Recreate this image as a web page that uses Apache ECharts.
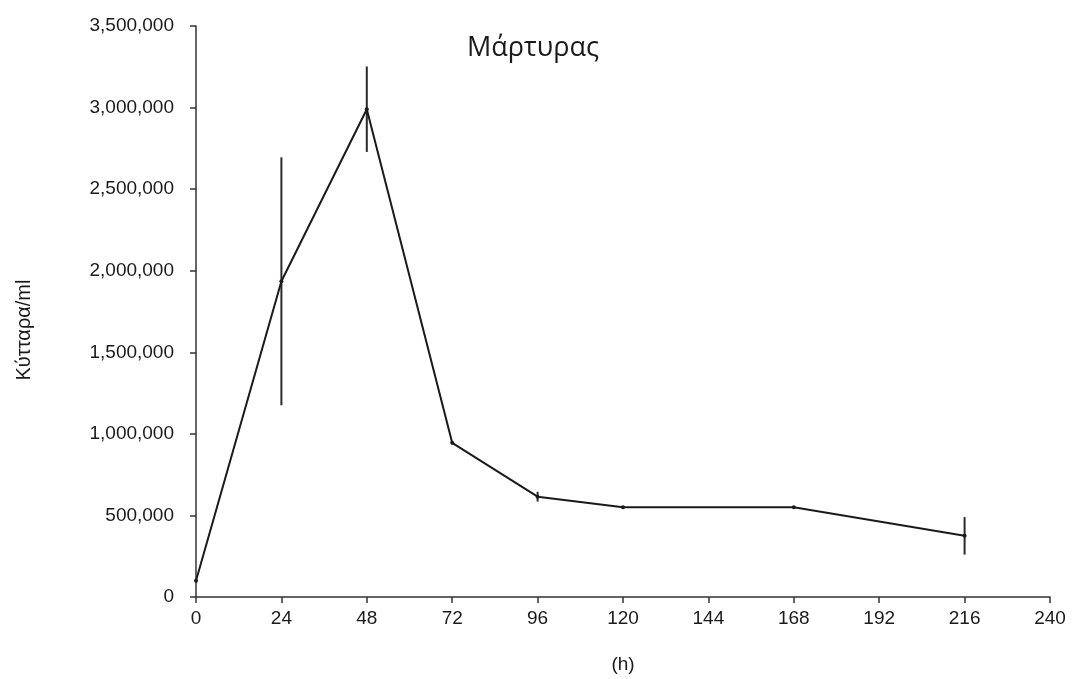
<!DOCTYPE html>
<html>
<head>
<meta charset="utf-8">
<script src="https://cdn.jsdelivr.net/npm/echarts@6/dist/echarts.min.js"></script>
<style>
    html, body { margin: 0; padding: 0; background: #fff; }
    #chart { width: 1073px; height: 679px; }
</style>
</head>
<body>
<div id="chart"></div>
<script>
// time points (h) and cell counts
const hours = [0, 24, 48, 72, 96, 120, 168, 216];
const cells = [100000, 1935000, 2990000, 945000, 615000, 550000, 550000, 375000];
const errors = [10000, 760000, 262000, 10000, 30000, 5000, 5000, 115000];
const xTicks = [0, 24, 48, 72, 96, 120, 144, 168, 192, 216, 240];

const ink = '#1a1a1a';
const labelFont = '"Liberation Sans", Arial, sans-serif';

const lineData = hours.map((h, i) => [h, cells[i]]);
const errData = hours.map((h, i) => [h, cells[i] - errors[i], cells[i] + errors[i]]);

const chart = echarts.init(document.getElementById('chart'));
chart.setOption({
    backgroundColor: '#fff',
    animation: false,
    title: {
        text: 'Μάρτυρας',
        left: 462,
        top: 30,
        textStyle: {
            color: ink,
            fontSize: 27,
            fontWeight: 'normal',
            fontFamily: '"Open Sans", "Noto Sans", sans-serif'
        }
    },
    // y-axis title sits a bit below the axis middle in the original
    graphic: [{
        type: 'text',
        x: 24,
        y: 330,
        rotation: Math.PI / 2,
        style: {
            text: 'Κύτταρα/ml',
            align: 'center',
            verticalAlign: 'middle',
            fill: ink,
            font: '20px "Liberation Sans", Arial, sans-serif'
        }
    }],
    grid: {
        left: 196,
        right: 23,
        top: 26,
        bottom: 76
    },
    xAxis: {
        type: 'value',
        min: 0,
        max: 240,
        interval: 24,
        name: '(h)',
        nameLocation: 'middle',
        nameGap: 58,
        nameTextStyle: { color: ink, fontSize: 19, fontFamily: labelFont },
        axisLine: { lineStyle: { color: '#333', width: 1.5 } },
        axisTick: { inside: false, length: 6, lineStyle: { color: '#333', width: 1.5 } },
        axisLabel: {
            color: ink,
            fontSize: 19,
            margin: 12,
            fontFamily: labelFont,
            formatter: v => xTicks.includes(v) ? String(v) : ''
        },
        splitLine: { show: false }
    },
    yAxis: {
        type: 'value',
        min: 0,
        max: 3500000,
        interval: 500000,
        axisLine: { show: true, lineStyle: { color: '#333', width: 1.5 } },
        axisTick: { show: true, inside: false, length: 6, lineStyle: { color: '#333', width: 1.5 } },
        axisLabel: {
            color: ink,
            fontSize: 19,
            margin: 22,
            fontFamily: labelFont,
            formatter: v => v.toLocaleString('en-US')
        },
        splitLine: { show: false }
    },
    series: [
        {
            type: 'line',
            data: lineData,
            symbol: 'circle',
            symbolSize: 4,
            itemStyle: { color: ink },
            lineStyle: { color: ink, width: 2 },
            z: 3
        },
        {
            type: 'custom',
            data: errData,
            encode: { x: 0, y: [1, 2] },
            renderItem: (params, api) => {
                const lo = api.coord([api.value(0), api.value(1)]);
                const hi = api.coord([api.value(0), api.value(2)]);
                return {
                    type: 'line',
                    shape: { x1: lo[0], y1: lo[1], x2: hi[0], y2: hi[1] },
                    style: { stroke: '#2a2a2a', lineWidth: 2 }
                };
            },
            z: 2
        }
    ]
});
</script>
</body>
</html>
